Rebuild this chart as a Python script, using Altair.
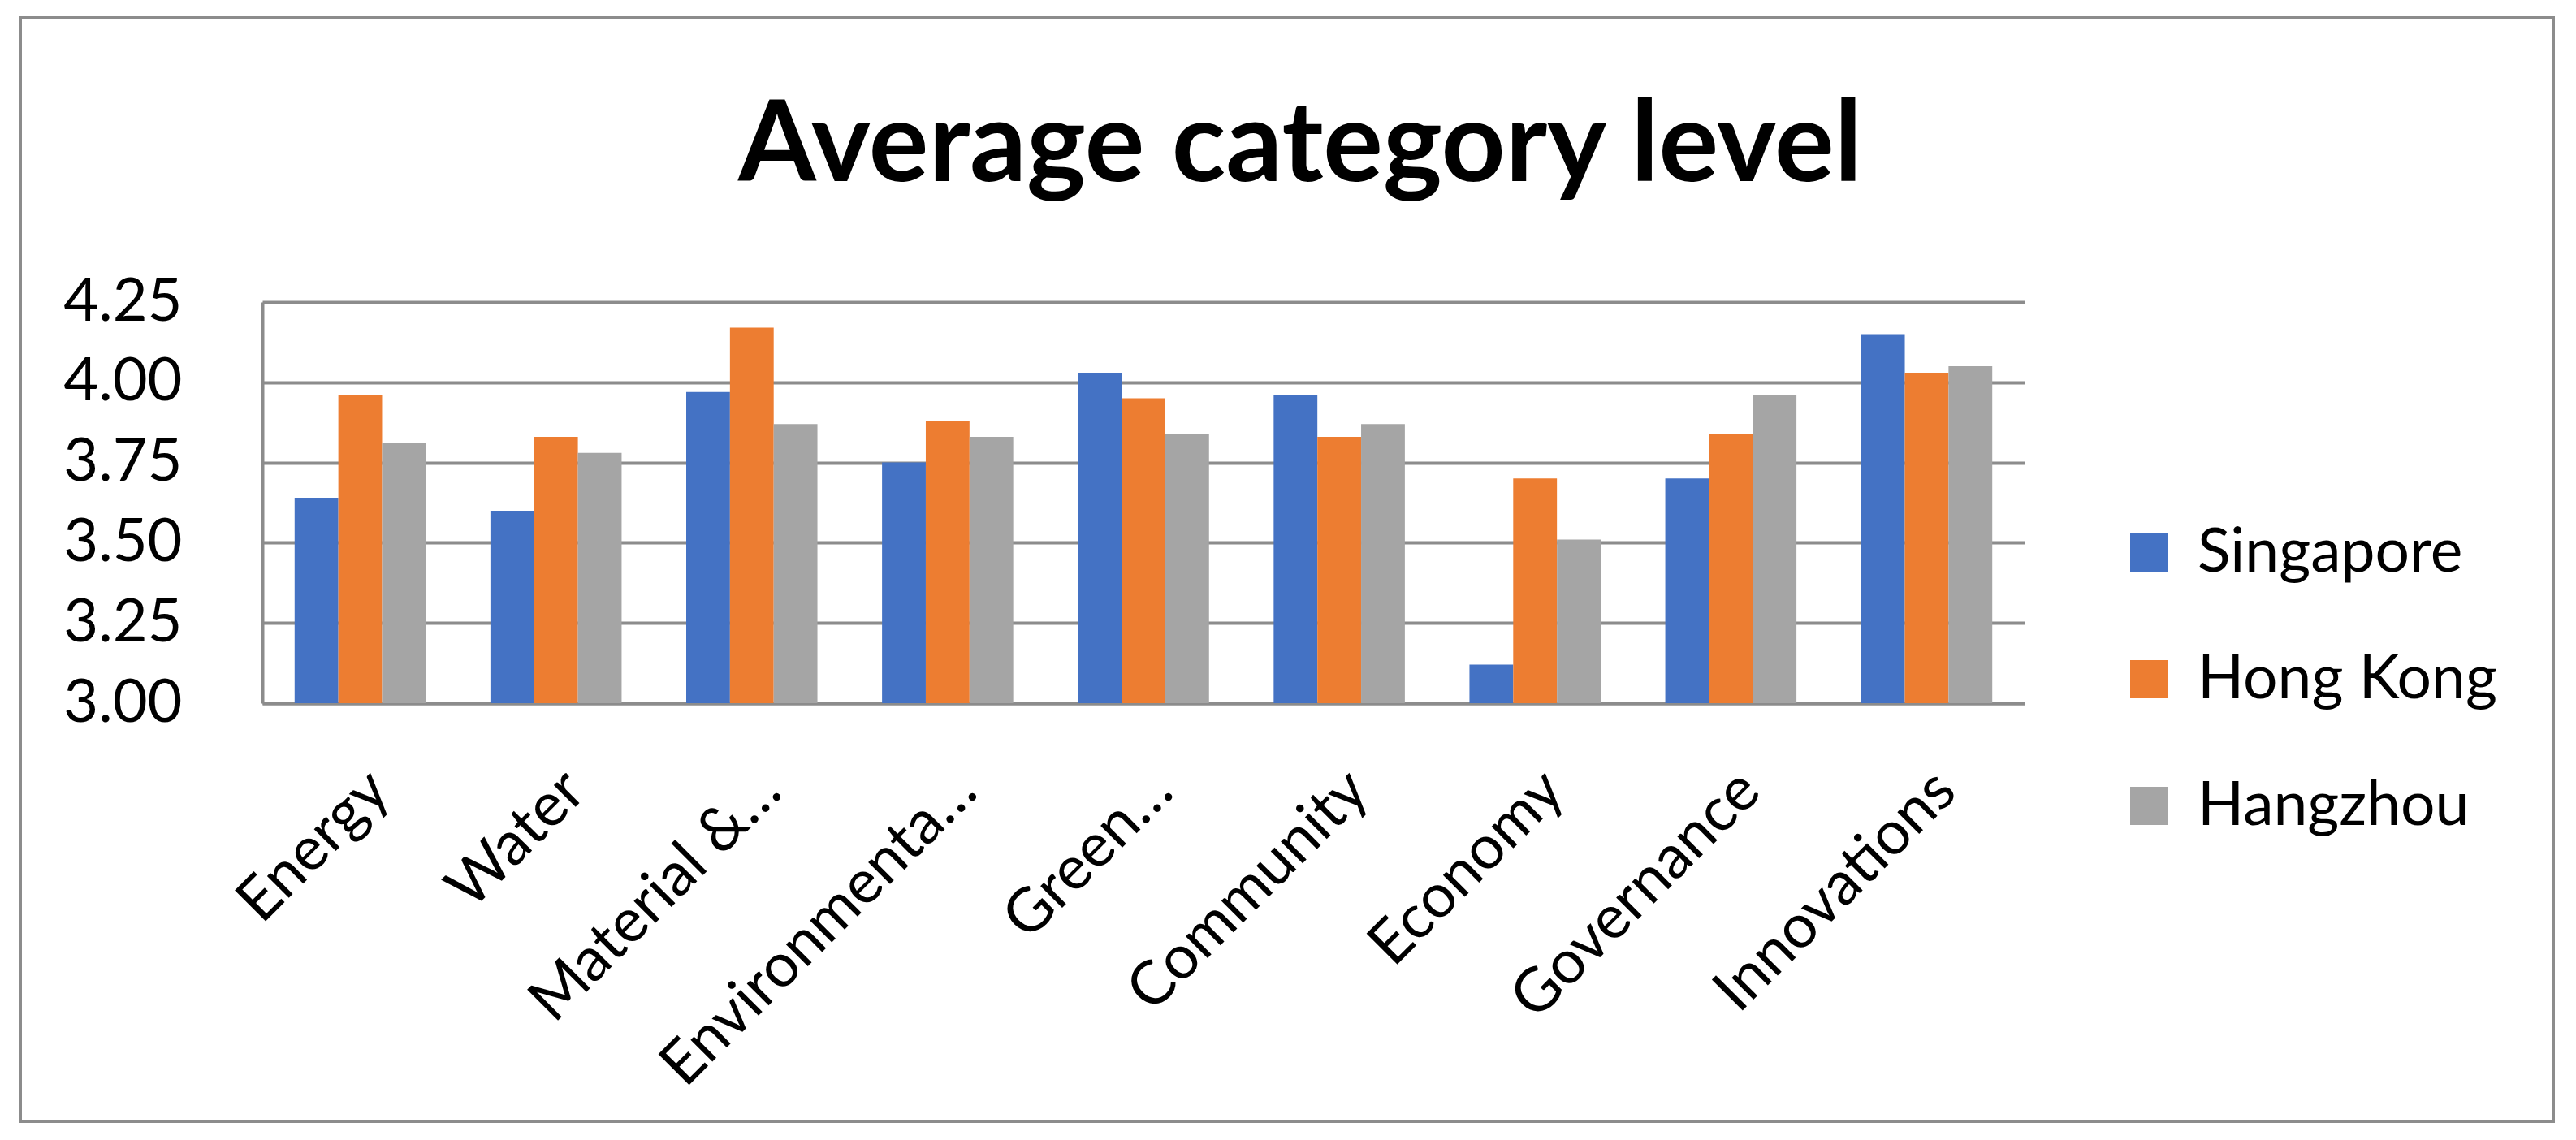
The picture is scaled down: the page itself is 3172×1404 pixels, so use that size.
import altair as alt
import pandas as pd

categories = ["Energy", "Water", "Material &…", "Environmenta…", "Green…",
              "Community", "Economy", "Governance", "Innovations"]
series = ["Singapore", "Hong Kong", "Hangzhou"]
singapore = [3.64, 3.60, 3.97, 3.75, 4.03, 3.96, 3.12, 3.70, 4.15]
hong_kong = [3.96, 3.83, 4.17, 3.88, 3.95, 3.83, 3.70, 3.84, 4.03]
hangzhou = [3.81, 3.78, 3.87, 3.83, 3.84, 3.87, 3.51, 3.96, 4.05]
y_ticks = [3.0, 3.25, 3.5, 3.75, 4.0, 4.25]
colors = ["#4472C4", "#ED7D31", "#A5A5A5"]

rows = []
for name, vals in zip(series, [singapore, hong_kong, hangzhou]):
    for c, v in zip(categories, vals):
        rows.append({"category": c, "series": name, "value": v})
df = pd.DataFrame(rows)

GRID = "#8C8C8C"
FONT = "Lato"

bars = alt.Chart(df).mark_bar().encode(
    x=alt.X("category:N", sort=categories, title=None,
            scale=alt.Scale(paddingInner=0.33, paddingOuter=0.165),
            axis=alt.Axis(labelAngle=-45, labelFontSize=75, labelFont=FONT,
                          labelColor="black", ticks=False, labelPadding=70,
                          labelOffset=-2, labelLimit=0,
                          domainColor=GRID, domainWidth=4, grid=False)),
    xOffset=alt.XOffset("series:N", sort=series),
    y=alt.Y("value:Q", title=None,
            scale=alt.Scale(domain=[3, 4.25], zero=False, nice=False),
            axis=alt.Axis(values=y_ticks, format=".2f", labelFontSize=74,
                          labelFont=FONT, labelColor="black", ticks=False,
                          labelPadding=99, gridColor=GRID, gridWidth=4,
                          domainColor=GRID, domainWidth=4)),
    y2=alt.datum(3),
    color=alt.Color("series:N", sort=series,
                    scale=alt.Scale(domain=series, range=colors),
                    legend=alt.Legend(title=None, orient="none",
                                      legendX=2286, legendY=271,
                                      symbolType="square", symbolSize=2209,
                                      symbolStrokeWidth=0, labelLimit=0,
                                      labelFontSize=75, labelFont=FONT,
                                      labelColor="black", labelOffset=22,
                                      rowPadding=80, padding=0)),
)

border = alt.Chart(alt.Data(values=[{"a": 1}])).mark_rect(
    fill=None, stroke=GRID, strokeWidth=4
).encode(
    x=alt.value(-298), x2=alt.value(2821),
    y=alt.value(-350), y2=alt.value(1009),
)

chart = alt.layer(border, bars).properties(
    width=2170, height=494,
    title=alt.TitleParams("Average category level", fontSize=138,
                          font=FONT, fontWeight="bold", color="black",
                          anchor="middle", frame="group", dx=193,
                          baseline="alphabetic", offset=-341),
    autosize=alt.AutoSizeParams(type="none"),
    padding={"left": 315, "top": 364, "right": 668, "bottom": 526},
).configure_view(stroke=None).configure(background="white")

chart.save("out.html", embed_options={"renderer": "svg", "actions": False})
